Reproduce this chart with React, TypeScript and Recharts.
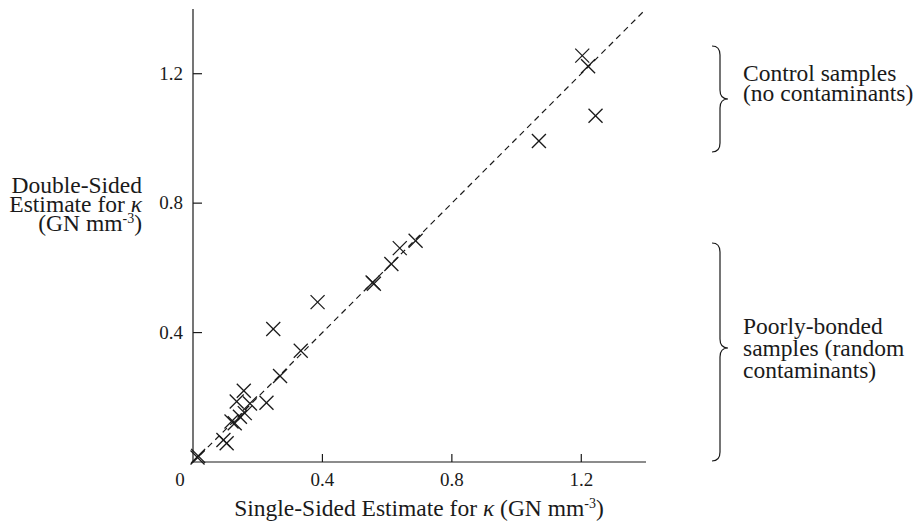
import { ScatterChart, Scatter, XAxis, YAxis, ReferenceLine, Customized } from 'recharts';

// single-sided (x) vs double-sided (y) estimates, GN mm^-3
const singleSided = [
  1.203, 1.221, 1.244, 1.069,
  0.688, 0.639, 0.613, 0.555, 0.559, 0.385, 0.248, 0.333, 0.269, 0.227,
  0.157, 0.135, 0.176, 0.16, 0.145, 0.119, 0.129, 0.094, 0.104, 0.016, 0.014,
];
const doubleSided = [
  1.256, 1.223, 1.07, 0.992,
  0.684, 0.661, 0.612, 0.555, 0.551, 0.494, 0.411, 0.344, 0.266, 0.183,
  0.22, 0.187, 0.181, 0.151, 0.14, 0.125, 0.12, 0.068, 0.058, 0.019, 0.014,
];
const xTicks = [0, 0.4, 0.8, 1.2];
const yTicks = [0.4, 0.8, 1.2];
const parityEnd = 1.39;

const points = singleSided.map((x, i) => ({ x, y: doubleSided[i] }));

const FONT = '"Liberation Serif", "Times New Roman", serif';
const INK = '#1a1a1a';

const Cross = (props: any) => {
  const { cx, cy } = props;
  const r = 7;
  return (
    <g stroke={INK} strokeWidth={1.3}>
      <line x1={cx - r} y1={cy - r} x2={cx + r} y2={cy + r} />
      <line x1={cx - r} y1={cy + r} x2={cx + r} y2={cy - r} />
    </g>
  );
};

const XTick = (props: any) => {
  const { x, y, payload } = props;
  const v = payload.value;
  return (
    <g>
      {v !== 0 && <line x1={x} x2={x} y1={y} y2={y - 8} stroke={INK} strokeWidth={1.2} />}
      <text x={v === 0 ? x - 13 : x} y={y + 24} textAnchor="middle" fontFamily={FONT} fontSize={19} fill={INK}>
        {v === 0 ? '0' : v.toFixed(1)}
      </text>
    </g>
  );
};

const YTick = (props: any) => {
  const { x, y, payload } = props;
  return (
    <g>
      <line x1={x} x2={x + 9} y1={y} y2={y} stroke={INK} strokeWidth={1.2} />
      <text x={x - 10} y={y + 6} textAnchor="end" fontFamily={FONT} fontSize={19} fill={INK}>
        {payload.value.toFixed(1)}
      </text>
    </g>
  );
};

const brace = (top: number, bottom: number, mid: number) => {
  const xl = 712, xv = 720, xt = 728;
  return `M${xl},${top} Q${xv},${top} ${xv},${top + 9} L${xv},${mid - 9} Q${xv},${mid} ${xt},${mid}` +
    ` Q${xv},${mid} ${xv},${mid + 9} L${xv},${bottom - 9} Q${xv},${bottom} ${xl},${bottom}`;
};

const Annotations = () => (
  <g fontFamily={FONT} fill={INK} fontSize={23.5}>
    {/* y axis title */}
    <text x={142} y={193} textAnchor="end">Double-Sided</text>
    <text x={142} y={212} textAnchor="end">
      Estimate for <tspan fontStyle="italic">κ</tspan>
    </text>
    <text x={142} y={231} textAnchor="end">
      (GN mm<tspan dy={-8} fontSize={14}>-3</tspan><tspan dy={8}>)</tspan>
    </text>

    {/* x axis title */}
    <text x={419} y={516} textAnchor="middle">
      Single-Sided Estimate for <tspan fontStyle="italic">κ</tspan> (GN mm
      <tspan dy={-8} fontSize={14}>-3</tspan>
      <tspan dy={8}>)</tspan>
    </text>

    {/* group braces */}
    <path d={brace(46, 152, 99)} fill="none" stroke={INK} strokeWidth={1.2} />
    <text x={743} y={81}>Control samples</text>
    <text x={743} y={101}>(no contaminants)</text>

    <path d={brace(243, 461, 348)} fill="none" stroke={INK} strokeWidth={1.2} />
    <text x={743} y={334}>Poorly-bonded</text>
    <text x={743} y={356}>samples (random</text>
    <text x={743} y={378}>contaminants)</text>
  </g>
);

export default function App() {
  return (
    <div style={{ position: 'absolute', left: 0, top: 0, background: '#fff' }}>
      <ScatterChart width={913} height={525} margin={{ top: 9, right: 267, bottom: 23, left: 133 }}>
        <XAxis
          type="number"
          dataKey="x"
          domain={[0, 1.4]}
          ticks={xTicks}
          height={40}
          tickLine={false}
          tickSize={0}
          tickMargin={0}
          axisLine={{ stroke: INK, strokeWidth: 1.2 }}
          tick={<XTick />}
          interval={0}
        />
        <YAxis
          type="number"
          dataKey="y"
          domain={[0, 1.4]}
          ticks={yTicks}
          width={60}
          tickLine={false}
          tickSize={0}
          tickMargin={0}
          axisLine={{ stroke: INK, strokeWidth: 1.2 }}
          tick={<YTick />}
          interval={0}
        />
        <ReferenceLine
          segment={[{ x: 0, y: 0 }, { x: parityEnd, y: parityEnd }]}
          stroke={INK}
          strokeWidth={1.2}
          strokeDasharray="6 4.5"
        />
        <Scatter data={points} shape={<Cross />} isAnimationActive={false} />
        <Customized component={Annotations} />
      </ScatterChart>
    </div>
  );
}
